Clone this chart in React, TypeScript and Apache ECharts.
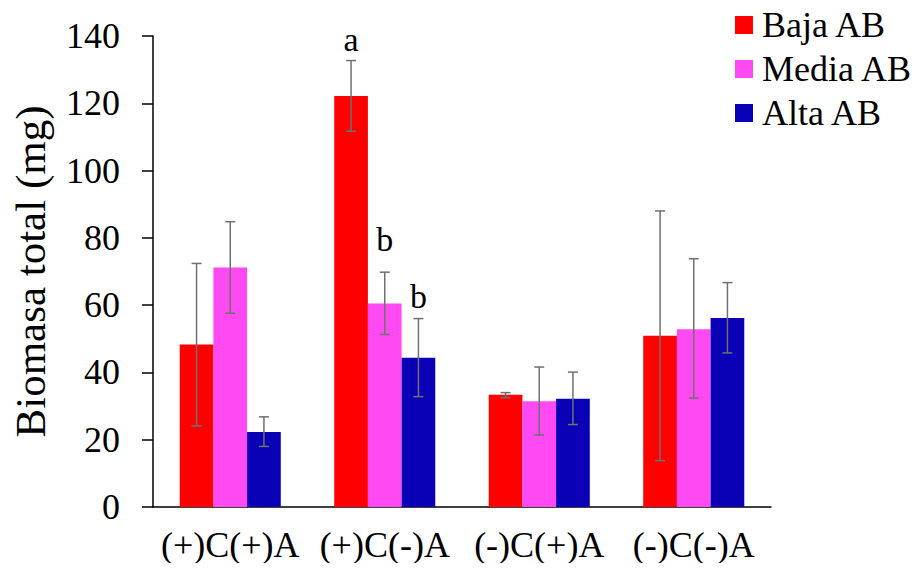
import React, { useEffect, useRef } from "react";
import * as echarts from "echarts";

const categories = ["(+)C(+)A", "(+)C(-)A", "(-)C(+)A", "(-)C(-)A"];
const seriesNames = ["Baja AB", "Media AB", "Alta AB"];
const colors = ["#FF0000", "#FF4AF3", "#0A00B5"];

const baja = [48.3, 122.2, 33.4, 50.9];
const media = [71.2, 60.5, 31.4, 52.8];
const alta = [22.3, 44.4, 32.2, 56.2];

const bajaLow = [24.1, 111.7, 32.5, 13.8];
const bajaHigh = [72.4, 132.7, 34.0, 88.0];
const mediaLow = [57.6, 51.3, 21.4, 32.4];
const mediaHigh = [84.8, 69.8, 41.6, 73.8];
const altaLow = [18.0, 32.8, 24.5, 45.8];
const altaHigh = [26.8, 56.0, 40.1, 66.7];

const bajaLetters = ["", "a", "", ""];
const mediaLetters = ["", "b", "", ""];
const altaLetters = ["", "b", "", ""];
const bajaLetterAt = [null, 139.1, null, null];
const mediaLetterAt = [null, 79.6, null, null];
const altaLetterAt = [null, 62.7, null, null];

const yTicks = { min: 0, max: 140, interval: 20 };

const FONT = "'Liberation Serif', 'Times New Roman', serif";
const BAR_FRACTION = 0.218;

export default function App() {
  const ref = useRef<HTMLDivElement>(null);
  useEffect(() => {
    if (!ref.current) return;
    const chart = echarts.init(ref.current, undefined, { renderer: "svg" });
    const values = [baja, media, alta];
    const lows = [bajaLow, mediaLow, altaLow];
    const highs = [bajaHigh, mediaHigh, altaHigh];
    const letters = [bajaLetters, mediaLetters, altaLetters];
    const letterAt = [bajaLetterAt, mediaLetterAt, altaLetterAt];

    const barSeries = seriesNames.map((name, i) => ({
      name,
      type: "bar",
      data: values[i],
      barWidth: BAR_FRACTION * 100 + "%",
      barGap: "0%",
      itemStyle: { color: colors[i] },
    }));

    const errSeries = seriesNames.map((name, i) => ({
      name: name + " err",
      type: "custom",
      clip: false,
      z: 10,
      data: categories.map((_, k) => [k, lows[i][k], highs[i][k], letterAt[i][k] ?? 0, letters[i][k]]),
      renderItem: (params: any, api: any) => {
        const k = api.value(0);
        const bw = api.size([1, 0])[0] * BAR_FRACTION;
        const off = (i - 1) * bw;
        const lo = api.coord([k, api.value(1)]);
        const hi = api.coord([k, api.value(2)]);
        const x = lo[0] + off;
        const cap = 5;
        const st = { stroke: "#707070", lineWidth: 1.5 };
        const children: any[] = [
          { type: "line", shape: { x1: x, y1: lo[1], x2: x, y2: hi[1] }, style: st },
          { type: "line", shape: { x1: x - cap, y1: lo[1], x2: x + cap, y2: lo[1] }, style: st },
          { type: "line", shape: { x1: x - cap, y1: hi[1], x2: x + cap, y2: hi[1] }, style: st },
        ];
        const letter = letters[i][k];
        if (letter) {
          const lp = api.coord([k, letterAt[i][k]]);
          children.push({
            type: "text",
            style: {
              x: x,
              y: lp[1],
              text: letter,
              fill: "#000",
              font: `34px ${FONT}`,
              align: "center",
              verticalAlign: "middle",
            },
          });
        }
        return { type: "group", children };
      },
    }));

    chart.setOption({
      animation: false,
      backgroundColor: "#ffffff",
      textStyle: { fontFamily: FONT },
      grid: { left: 153, right: 148, top: 36, bottom: 64, containLabel: false },
      legend: {
        data: seriesNames,
        orient: "vertical",
        left: 735,
        top: 7,
        padding: 0,
        icon: "rect",
        itemWidth: 18,
        itemHeight: 18,
        itemGap: 8,
        textStyle: { fontFamily: FONT, fontSize: 36, color: "#000", lineHeight: 36, padding: [0, 0, 0, 4] },
      },
      xAxis: {
        type: "category",
        data: categories,
        axisLine: { lineStyle: { color: "#000", width: 1.5 } },
        axisTick: { show: false },
        axisLabel: { interval: 0, fontFamily: FONT, fontSize: 36, color: "#000", margin: 20 },
      },
      yAxis: {
        type: "value",
        min: yTicks.min,
        max: yTicks.max,
        interval: yTicks.interval,
        name: "Biomasa total (mg)",
        nameLocation: "middle",
        nameGap: 101,
        nameRotate: 90,
        nameTextStyle: { fontFamily: FONT, fontSize: 43, color: "#000" },
        splitLine: { show: false },
        axisLine: { show: true, lineStyle: { color: "#000", width: 1.5 } },
        axisTick: { show: true, length: 11, lineStyle: { color: "#000", width: 1.5 } },
        axisLabel: { fontFamily: FONT, fontSize: 36, color: "#000", margin: 33 },
      },
      series: [...barSeries, ...errSeries],
    });
    return () => chart.dispose();
  }, []);
  return <div ref={ref} style={{ width: 919, height: 571, margin: -8 }} />;
}
